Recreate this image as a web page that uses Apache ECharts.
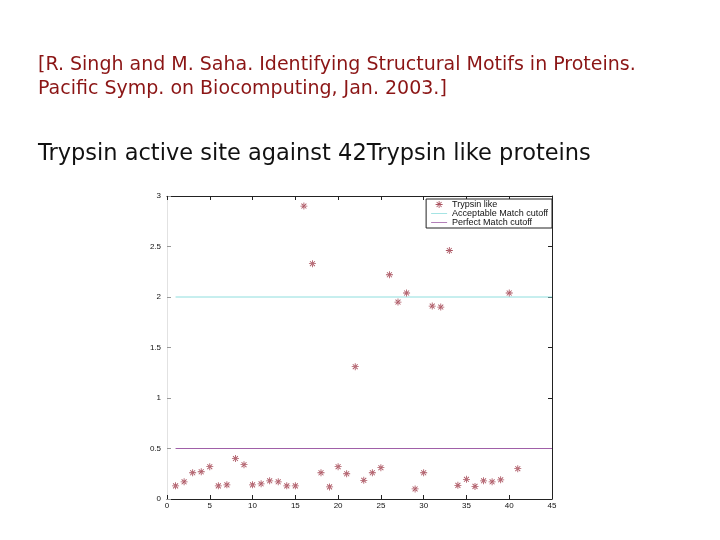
<!DOCTYPE html>
<html>
<head>
<meta charset="utf-8">
<script src="https://cdn.jsdelivr.net/npm/echarts@6/dist/echarts.min.js"></script>
<style>html,body{margin:0;padding:0;background:#fff}#c{width:720px;height:540px}</style>
</head>
<body>
<div id="c"></div>
<script>
// Data
const proteinIndex = [1,2,3,4,5,6,7,8,9,10,11,12,13,14,15,16,17,18,19,20,21,22,23,24,25,26,27,28,29,30,31,32,33,34,35,36,37,38,39,40,41];
const matchScore = [0.13,0.17,0.26,0.27,0.32,0.13,0.14,0.40,0.34,0.14,0.15,0.18,0.17,0.13,0.13,2.90,2.33,0.26,0.12,0.32,0.25,1.31,0.185,0.26,0.31,2.22,1.95,2.04,0.10,0.26,1.91,1.90,2.46,0.135,0.195,0.125,0.18,0.17,0.19,2.04,0.30];
const acceptableCutoffX = [1, 45];
const acceptableCutoffY = [2, 2];
const perfectCutoffX = [1, 45];
const perfectCutoffY = [0.5, 0.5];
const xTicks = [0,5,10,15,20,25,30,35,40,45];
const yTicks = [0,0.5,1,1.5,2,2.5,3];

const scatterData = proteinIndex.map((x,i)=>[x, matchScore[i]]);
const accData = acceptableCutoffX.map((x,i)=>[x, acceptableCutoffY[i]]);
const perfData = perfectCutoffX.map((x,i)=>[x, perfectCutoffY[i]]);

const star = 'path://M-0.12,-1 L0.12,-1 L0.12,1 L-0.12,1 Z M-1,-0.12 L1,-0.12 L1,0.12 L-1,0.12 Z M-0.79,-0.62 L0.62,0.79 L0.79,0.62 L-0.62,-0.79 Z M0.79,-0.62 L-0.62,0.79 L-0.79,0.62 L0.62,-0.79 Z';
const lineIcon = 'path://M0,0 L20,0 L20,1 L0,1 Z';

const chart = echarts.init(document.getElementById('c'), null, {renderer:'canvas'});
const axisFont = {fontFamily:'Liberation Sans, Arial, sans-serif', fontSize:8, color:'#111'};
chart.setOption({
  animation:false,
  backgroundColor:'#fff',
  grid:{left:167, right:168, top:196, bottom:41},
  xAxis:[{
    type:'value', min:0, max:45, interval:5, position:'bottom',
    axisLine:{show:true, onZero:false, lineStyle:{color:'#222', width:1}},
    axisTick:{show:true, inside:true, length:4, lineStyle:{color:'#222'}},
    axisLabel:Object.assign({margin:3, formatter:v=>xTicks.includes(v)?String(v):''}, axisFont),
    splitLine:{show:false}
  },{
    type:'value', position:'top', min:0, max:45, interval:5,
    axisLine:{show:true, onZero:false, lineStyle:{color:'#222', width:1}},
    axisTick:{show:true, inside:true, length:4, lineStyle:{color:'#222'}},
    axisLabel:{show:false}, splitLine:{show:false}
  }],
  yAxis:[{
    type:'value', min:0, max:3, interval:0.5, position:'left',
    axisLine:{show:true, onZero:false, lineStyle:{color:'#e2e2e2', width:1}},
    axisTick:{show:true, inside:true, length:4, lineStyle:{color:'#999'}},
    axisLabel:Object.assign({margin:6, formatter:v=>yTicks.includes(v)?String(v):''}, axisFont),
    splitLine:{show:false}
  },{
    type:'value', position:'right', min:0, max:3, interval:0.5,
    axisLine:{show:true, onZero:false, lineStyle:{color:'#222', width:1}},
    axisTick:{show:true, inside:true, length:4, lineStyle:{color:'#222'}},
    axisLabel:{show:false}, splitLine:{show:false}
  }],
  legend:{
    orient:'vertical', right:168, top:199,
    backgroundColor:'#fff', borderColor:'#222', borderWidth:1,
    padding:[1,4,1,5], itemGap:0, itemWidth:16, itemHeight:7,
    textStyle:{fontFamily:'Liberation Sans, Arial, sans-serif', fontSize:9, color:'#111'},
    data:[
      {name:'Trypsin like', icon:star},
      {name:'Acceptable Match cutoff', icon:lineIcon},
      {name:'Perfect Match cutoff', icon:lineIcon}
    ]
  },
  series:[
    {name:'Trypsin like', type:'scatter', data:scatterData, symbol:star, symbolSize:7,
     itemStyle:{color:'#962838'}, z:5},
    {name:'Acceptable Match cutoff', type:'line', data:accData, showSymbol:false, symbol:'none',
     lineStyle:{color:'#8fdede', width:1}, itemStyle:{color:'#8fdede'}},
    {name:'Perfect Match cutoff', type:'line', data:perfData, showSymbol:false, symbol:'none',
     lineStyle:{color:'#a060a8', width:1}, itemStyle:{color:'#a060a8'}}
  ],
  graphic:[
    {type:'text', left:38, top:53, style:{text:'[R. Singh and M. Saha. Identifying Structural Motifs in Proteins.\nPacific Symp. on Biocomputing, Jan. 2003.]',
      fontFamily:'DejaVu Sans, sans-serif', fontSize:19, lineHeight:24, fill:'#8b1515'}},
    {type:'text', left:38, top:143, style:{text:'Trypsin active site against 42Trypsin like proteins',
      fontFamily:'DejaVu Sans, sans-serif', fontSize:22.5, fill:'#111'}}
  ]
});
</script>
</body>
</html>
